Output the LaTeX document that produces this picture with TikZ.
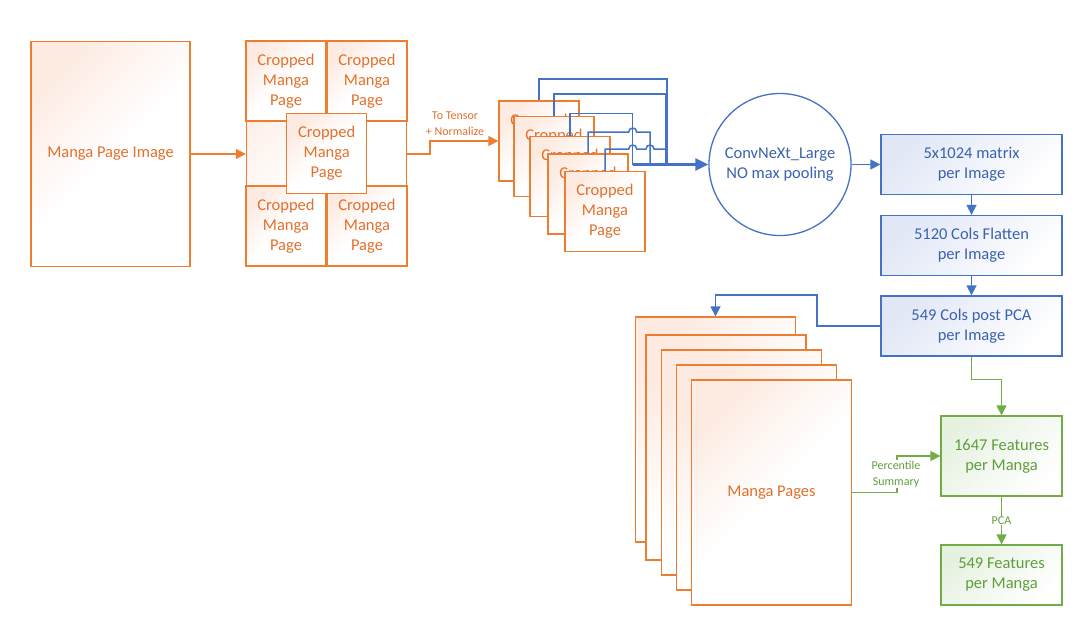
\documentclass[tikz,border=0pt]{standalone}
\usepackage{fontspec}
\setmainfont{Carlito}
\usetikzlibrary{arrows.meta,calc}
\definecolor{oline}{HTML}{ED7D31}
\definecolor{otext}{HTML}{E2702C}
\definecolor{ofill}{HTML}{FDEBE2}
\definecolor{bline}{HTML}{4472C4}
\definecolor{btext}{HTML}{3A62B0}
\definecolor{bfill}{HTML}{E1E7F6}
\definecolor{gline}{HTML}{70AD47}
\definecolor{gtext}{HTML}{5E9E3C}
\definecolor{gfill}{HTML}{E6F1E0}
\tikzset{
  bigfont/.style={font=\fontsize{16.5}{20}\selectfont},
  smallfont/.style={font=\fontsize{12}{16}\selectfont},
  obox/.style={draw=oline, line width=1.3pt, text=otext, bigfont, align=center, inner sep=0pt,
    top color=ofill, bottom color=white, middle color=white, shading angle=45},
  bbox/.style={draw=bline, line width=1.3pt, text=btext, bigfont, align=center, inner sep=0pt,
    top color=bfill, bottom color=white, shading angle=45},
  gbox/.style={draw=gline, line width=1.3pt, text=gtext, bigfont, align=center, inner sep=0pt,
    top color=gfill, bottom color=white, shading angle=45},
  crop/.style={obox, minimum width=80pt, minimum height=80pt},
  page/.style={obox, minimum width=160pt, minimum height=225pt},
  tipA/.style={-{Triangle[length=10pt,width=10pt]}},
  oarr/.style={draw=oline, line width=1.4pt, tipA, color=oline},
  barr/.style={draw=bline, line width=1.5pt, tipA, color=bline},
  garr/.style={draw=gline, line width=1.4pt, tipA, color=gline},
  bln/.style={draw=bline, line width=1.5pt},
  lab/.style={smallfont, align=center, fill=white, inner sep=1pt},
}
\begin{document}
\begin{tikzpicture}[x=1pt,y=-1pt]
\useasboundingbox (0,0) rectangle (1090,637);

% input page
\node[obox, minimum width=159pt, minimum height=225pt] (mpi) at (110.5,154) {Manga Page Image};

% crop grid
\node[obox, minimum width=160pt, minimum height=225pt] (cropbg) at (326.5,154) {};
\node[crop] (tl) at (286,81) {Cropped\\Manga\\Page};
\node[crop] (tr) at (367,81) {Cropped\\Manga\\Page};
\node[crop] (bl) at (286,226) {Cropped\\Manga\\Page};
\node[crop] (br) at (367,226) {Cropped\\Manga\\Page};
\node[crop] (cc) at (326.7,153.5) {Cropped\\Manga\\Page};

\draw[oarr] (mpi.east) -- (cropbg.west);

% stacked crops
\node[crop] (c1) at (539,141) {Cropped\\Manga\\Page};
\node[crop] (c2) at (554,156.5) {Cropped\\Manga\\Page};
\node[crop] (c3) at (570,176.5) {Cropped\\Manga\\Page};
\node[crop] (c4) at (588,194) {Cropped\\Manga\\Page};
\node[crop] (c5) at (605,211.5) {Cropped\\Manga\\Page};

\draw[oarr] (cropbg.east) -- ++(23,0) |- (c1.west);
\node[lab, text=otext, fill=none] (tt) at (455,124) {To Tensor\\+ Normalize};

% CNN
\node[circle, draw=bline, line width=1.3pt, fill=white, minimum size=142pt, inner sep=0pt,
      text=btext, bigfont, align=center] (cnn) at (780,164.5) {ConvNeXt\_Large\\NO max pooling};

% blue collector lines
\coordinate (k1) at (667,79);
\coordinate (k2) at (665.5,94);
\coordinate (k3) at (632.7,113.7);
\coordinate (k4) at (588,132);
\coordinate (k5) at (605,149);
\coordinate (t3) at (632.7,164.5);
\coordinate (t4) at (650,164.5);
\coordinate (t1) at (667,164.5);
\coordinate (t2) at (665.5,164.5);
\draw[bln] (c1.north) |- (k1) -- (t1);
\draw[bln] (c2.north) |- (k2) -- (t2);
\draw[bln] (c3.north) |- (k3) -- (t3);
\draw[bln] (c4.north) -- (k4) -- (628.7,132) .. controls (628.7,126.7) and (636.7,126.7) .. (636.7,132)
   -- (650,132) -- (t4);
\draw[bln] (c5.north) -- (k5) -- (628.7,149) .. controls (628.7,143.7) and (636.7,143.7) .. (636.7,149)
   -- (646,149) .. controls (646,143.7) and (654,143.7) .. (654,149) -- (665.5,149);
\draw[draw=bline, line width=2.4pt, -{Triangle[length=13pt,width=12pt]}, color=bline] (t3) -- (cnn.west);

% blue boxes
\node[bbox, minimum width=181pt, minimum height=60pt] (b1) at (971.5,164.5) {5x1024 matrix\\per Image};
\node[bbox, minimum width=181pt, minimum height=60pt] (b2) at (971.5,245.5) {5120 Cols Flatten\\per Image};
\node[bbox, minimum width=181pt, minimum height=60pt] (b3) at (971.5,326) {549 Cols post PCA\\per Image};
\draw[barr] (cnn.east) -- (b1.west);
\draw[barr] (b1.south) -- (b2.north);
\draw[barr] (b2.south) -- (b3.north);

% manga pages stack
\node[page] (p1) at (715.5,429.5) {};
\node[page] (p2) at (726,447.5) {};
\node[page] (p3) at (741.5,462.5) {};
\node[page] (p4) at (756.5,477.5) {};
\node[page] (p5) at (771.5,492.5) {Manga Pages};

\coordinate (bend) at (817,295);
\draw[barr] (b3.west) -| (bend) -| (p1.north);

% green boxes
\node[gbox, minimum width=121pt, minimum height=80pt] (g1) at (1001.5,456) {1647 Features\\per Manga};
\node[gbox, minimum width=121pt, minimum height=60pt] (g2) at (1001.5,575) {549 Features\\per Manga};

\draw[garr] (b3.south) -- ++(0,23) -| (g1.north);
\draw[garr] (p5.east) -- ++(45,0) |- (g1.west);
\node[lab, text=gtext] (ps) at (896,474) {Percentile\\Summary};
\draw[garr] (g1.south) -- (g2.north) node[midway, lab, text=gtext] (pca) {PCA};
\end{tikzpicture}
\end{document}
